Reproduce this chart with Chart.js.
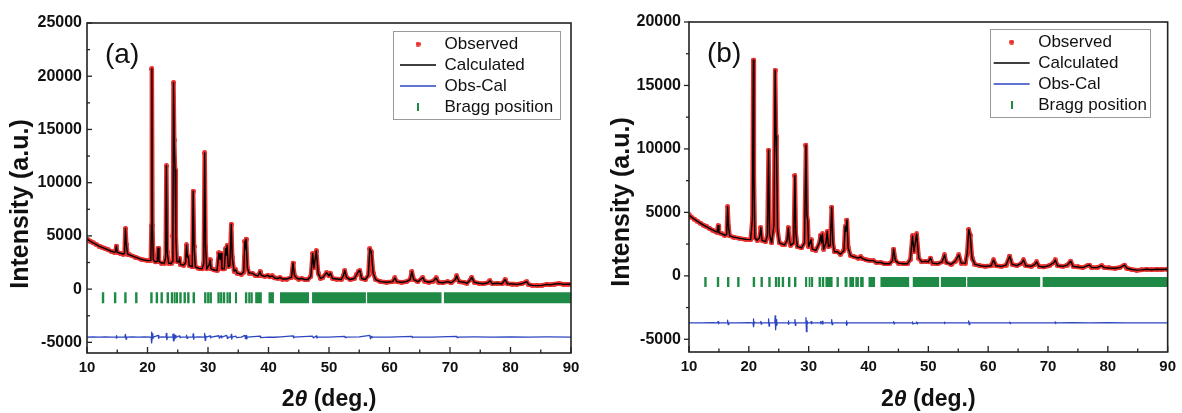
<!DOCTYPE html>
<html><head><meta charset="utf-8">
<script src="https://cdn.jsdelivr.net/npm/chart.js@4.4.1/dist/chart.umd.min.js"></script>
<style>
html,body{margin:0;padding:0;background:#fff;}
#wrap{position:relative;width:1182px;height:413px;overflow:hidden;background:#fff;}
#wrap canvas{position:absolute;top:0;}
</style></head><body>
<div id="wrap">
<canvas id="ca" width="591" height="413" style="left:0px"></canvas>
<canvas id="cb" width="591" height="413" style="left:591px"></canvas>
</div>
<script>
// ---------------- data ----------------
const seriesNames = ['Observed', 'Calculated', 'Obs-Cal', 'Bragg position'];
const panelLabels = ['(a)', '(b)'];
const xTicks = [10, 20, 30, 40, 50, 60, 70, 80, 90];
const xMinorTicks = [15, 25, 35, 45, 55, 65, 75, 85];
const yTicksA = [-5000, 0, 5000, 10000, 15000, 20000, 25000];
const yMinorTicksA = [-2500, 2500, 7500, 12500, 17500, 22500];
const yTicksB = [-5000, 0, 5000, 10000, 15000, 20000];
const yMinorTicksB = [-2500, 2500, 7500, 12500, 17500];

// panel (a) observed / calculated profile [2theta, intensity]
const observedA = [[10.0,4700],[10.5,4520],[11.0,4350],[11.5,4200],[12.0,4050],[12.5,3920],[13.0,3800],[13.5,3680],[14.0,3560],[14.5,3480],[14.7,3500],[14.85,4050],[15.0,3450],[15.5,3370],[16.0,3300],[16.2,3350],[16.35,5700],[16.5,4200],[16.7,3300],[17.0,3220],[18.0,3000],[19.0,2800],[20.0,2680],[20.55,2700],[20.65,6000],[20.72,20700],[20.82,6000],[20.95,2750],[21.3,2550],[21.6,2600],[21.75,3850],[21.9,2600],[22.3,2450],[22.8,2450],[23.0,3000],[23.12,11600],[23.25,3500],[23.5,2450],[23.9,2400],[24.1,2600],[24.2,5000],[24.3,19400],[24.42,14000],[24.55,11200],[24.68,5000],[24.85,2600],[25.2,2550],[25.3,2900],[25.45,2300],[26.0,2250],[26.3,2500],[26.45,4150],[26.6,3000],[26.75,3100],[26.9,2200],[27.4,2100],[27.55,9200],[27.7,4000],[27.9,2100],[28.5,1950],[29.0,1900],[29.3,2400],[29.45,12800],[29.6,4000],[29.8,1900],[30.2,2300],[30.35,2750],[30.5,1900],[31.0,1800],[31.5,1750],[31.8,3400],[32.0,2800],[32.15,3350],[32.3,1900],[32.7,1900],[32.9,3800],[33.0,3200],[33.15,4100],[33.35,2100],[33.6,2200],[33.85,6100],[34.0,3000],[34.3,1700],[34.6,1800],[34.8,1500],[35.5,1400],[35.9,1600],[36.1,4500],[36.2,3800],[36.3,4700],[36.5,2000],[36.8,1500],[37.3,1500],[37.8,1300],[38.3,1250],[38.6,1650],[38.8,1300],[39.4,1200],[39.9,1300],[40.2,1150],[40.6,1250],[41.0,1050],[41.6,1000],[41.9,1100],[42.3,950],[43.0,950],[43.8,1100],[44.05,2450],[44.3,1300],[44.6,1050],[45.0,950],[45.5,1000],[46.0,900],[46.5,900],[47.0,1200],[47.3,3350],[47.5,2000],[47.9,3600],[48.2,1500],[48.6,1000],[49.0,1100],[49.6,1550],[50.0,1250],[50.2,1500],[50.6,1000],[51.3,950],[52.0,900],[52.4,1300],[52.6,1750],[52.9,1100],[53.5,900],[54.2,1000],[54.6,1400],[54.9,1700],[55.1,1750],[55.4,1000],[56.0,900],[56.5,1300],[56.75,3800],[57.0,3500],[57.3,1500],[57.7,900],[58.5,700],[59.5,650],[60.5,700],[60.9,1050],[61.2,700],[62.0,650],[62.8,700],[63.4,900],[63.7,1650],[64.0,900],[64.7,700],[65.5,1100],[65.8,750],[66.5,650],[67.2,750],[67.7,1050],[68.1,650],[68.8,600],[69.6,700],[70.2,600],[70.9,900],[71.1,1250],[71.5,700],[72.3,650],[72.8,550],[73.4,900],[73.6,1100],[74.0,650],[74.8,550],[75.5,500],[76.3,600],[76.6,800],[77.0,500],[77.8,550],[78.6,500],[79.1,900],[79.5,500],[80.3,480],[81.0,450],[81.8,500],[82.7,700],[83.0,420],[83.6,350],[84.4,330],[85.2,350],[86.0,450],[86.6,400],[87.3,480],[88.0,520],[88.8,450],[89.5,470],[90.0,460]];
const calculatedA = observedA;
const diffA = [[10,-4520],[11,-4480],[12,-4510],[13,-4490],[14,-4510],[14.8,-4500],[14.85,-4380],[14.92,-4600],[15.0,-4500],[16.25,-4500],[16.35,-4250],[16.45,-4700],[16.55,-4500],[17.5,-4490],[18.5,-4510],[19.5,-4490],[20.6,-4500],[20.65,-4050],[20.72,-5050],[20.8,-4200],[20.88,-4650],[20.95,-4500],[21.75,-4350],[21.82,-4620],[21.9,-4500],[22.5,-4480],[23.05,-4500],[23.12,-4150],[23.2,-4750],[23.3,-4500],[24.1,-4500],[24.2,-4250],[24.3,-4850],[24.38,-4200],[24.5,-4700],[24.6,-4350],[24.7,-4550],[24.8,-4500],[25.3,-4380],[25.38,-4560],[25.45,-4500],[26.4,-4500],[26.45,-4320],[26.55,-4620],[26.65,-4500],[27.5,-4500],[27.55,-4200],[27.63,-4700],[27.72,-4500],[28.5,-4490],[29.4,-4500],[29.45,-4150],[29.53,-4800],[29.62,-4420],[29.7,-4500],[30.35,-4400],[30.42,-4580],[30.5,-4500],[31.8,-4380],[31.88,-4600],[32.15,-4400],[32.22,-4580],[32.3,-4500],[33.1,-4350],[33.2,-4620],[33.3,-4500],[33.8,-4500],[33.85,-4250],[33.93,-4700],[34.0,-4500],[34.6,-4420],[34.7,-4550],[35.5,-4500],[36.1,-4350],[36.2,-4650],[36.3,-4380],[36.4,-4680],[36.5,-4500],[38.6,-4420],[38.7,-4560],[40,-4500],[41,-4520],[42,-4480],[44.05,-4400],[44.12,-4580],[44.2,-4500],[47.3,-4420],[47.4,-4580],[47.9,-4400],[48.0,-4600],[48.1,-4500],[50,-4500],[52.6,-4440],[52.7,-4560],[52.8,-4500],[55,-4480],[56.75,-4350],[56.85,-4650],[57.0,-4450],[57.1,-4550],[57.2,-4500],[60,-4500],[63.7,-4440],[63.8,-4560],[63.9,-4500],[67,-4500],[71.1,-4440],[71.2,-4560],[71.3,-4500],[74,-4490],[77,-4510],[80,-4490],[83,-4510],[86,-4490],[90,-4500]];
const braggA = [[12.45,12.85],[14.45,14.85],[16.15,16.55],[17.95,18.35],[20.45,20.85],[21.35,21.75],[22.15,22.55],[23.15,23.55],[23.85,24.25],[24.35,24.65],[24.7,25.05],[25.25,25.65],[25.95,26.35],[26.55,26.95],[27.45,27.85],[29.35,29.75],[29.85,30.2],[30.25,30.65],[31.55,31.95],[32.0,32.35],[32.45,32.85],[33.05,33.4],[33.45,33.8],[34.45,34.8],[36.1,36.5],[36.65,37.0],[37.05,37.4],[37.8,38.9],[40.0,40.9],[41.9,46.7],[47.2,56.1],[56.3,68.6],[69.0,90]];
const braggLevelA = -800;

// panel (b)
const observedB = [[10.0,4800],[10.5,4600],[11.0,4430],[11.5,4270],[12.0,4120],[12.5,3980],[13.0,3850],[13.5,3720],[14.0,3600],[14.5,3480],[14.7,3450],[14.85,3950],[15.0,3400],[15.5,3300],[16.0,3200],[16.3,3250],[16.45,5450],[16.6,3900],[16.8,3150],[17.5,3050],[18.5,2950],[19.5,2870],[20.3,2850],[20.6,4500],[20.75,17000],[20.85,8000],[21.0,3000],[21.4,2800],[21.8,3000],[22.0,3800],[22.2,2800],[22.8,2700],[23.1,3200],[23.3,9900],[23.45,3300],[23.8,2600],[24.2,4000],[24.4,16200],[24.55,11000],[24.65,9300],[24.8,3600],[25.1,2600],[25.6,2500],[26.0,2450],[26.4,2800],[26.6,3800],[26.75,2900],[27.0,2400],[27.5,2600],[27.7,7900],[27.85,3400],[28.1,2300],[28.8,2200],[29.3,2600],[29.55,10300],[29.7,4800],[29.85,4300],[30.0,2300],[30.4,2850],[30.6,2100],[31.2,2000],[31.8,2600],[32.0,3200],[32.15,2600],[32.3,3300],[32.5,2100],[32.9,2600],[33.1,3500],[33.3,2300],[33.6,2400],[33.85,5400],[34.05,2600],[34.3,1900],[34.8,1900],[35.3,1700],[35.9,2000],[36.1,3900],[36.2,3500],[36.4,4400],[36.6,2200],[37.0,1600],[37.6,1500],[38.3,1400],[38.7,1500],[39.0,1350],[39.6,1250],[40.2,1200],[40.8,1200],[41.3,1050],[42.1,1050],[42.6,950],[43.5,950],[44.0,1200],[44.2,2100],[44.5,1200],[45.0,1000],[45.8,950],[46.5,950],[47.0,1300],[47.35,3150],[47.6,1900],[48.05,3300],[48.4,1400],[48.9,1100],[49.5,1150],[50.0,1100],[50.35,1400],[50.7,1000],[51.5,950],[52.3,1100],[52.7,1650],[53.0,1050],[53.8,900],[54.5,1150],[55.1,1650],[55.5,1000],[56.2,1000],[56.5,1800],[56.75,3650],[57.0,3200],[57.3,1400],[57.8,900],[58.6,800],[59.5,750],[60.5,800],[60.9,1250],[61.3,800],[62.2,750],[63.0,850],[63.6,1550],[64.0,900],[64.8,800],[65.6,1000],[65.9,1250],[66.3,800],[67.2,750],[67.8,900],[68.1,1100],[68.5,750],[69.3,700],[70.2,800],[71.0,1050],[71.2,1250],[71.6,800],[72.5,750],[73.2,850],[73.8,1150],[74.2,750],[75.0,700],[75.8,650],[76.6,800],[76.9,850],[77.3,650],[78.2,650],[79.0,800],[79.4,650],[80.2,620],[81.2,600],[82.0,650],[82.8,850],[83.2,600],[84.0,500],[84.8,450],[85.6,470],[86.5,520],[87.3,480],[88.2,520],[89.0,500],[90.0,520]];
const calculatedB = observedB;
const diffB = [[10,-3700],[12,-3710],[14,-3690],[14.8,-3700],[14.85,-3600],[14.92,-3780],[15,-3700],[16.4,-3700],[16.45,-3500],[16.55,-3850],[16.65,-3700],[18,-3710],[20,-3690],[20.7,-3700],[20.75,-3400],[20.82,-4000],[20.9,-3650],[21,-3700],[21.95,-3700],[22.0,-3580],[22.08,-3800],[22.15,-3700],[23.25,-3700],[23.3,-3400],[23.38,-3950],[23.46,-3700],[24.35,-3700],[24.4,-3150],[24.48,-4250],[24.56,-3450],[24.66,-3900],[24.75,-3700],[26.55,-3700],[26.6,-3550],[26.68,-3820],[26.76,-3700],[27.65,-3700],[27.7,-3450],[27.78,-3900],[27.86,-3700],[29.5,-3700],[29.55,-3300],[29.63,-4400],[29.72,-3550],[29.82,-3750],[29.9,-3700],[30.35,-3700],[30.4,-3600],[30.48,-3780],[30.55,-3700],[31.95,-3700],[32.0,-3600],[32.08,-3780],[32.3,-3580],[32.38,-3800],[32.46,-3700],[33.8,-3700],[33.85,-3450],[33.93,-3850],[34.02,-3700],[36.25,-3700],[36.3,-3550],[36.4,-3900],[36.5,-3700],[38,-3700],[40,-3710],[44.15,-3700],[44.2,-3600],[44.28,-3780],[44.36,-3700],[47.3,-3700],[47.35,-3620],[47.43,-3780],[48.0,-3700],[48.05,-3620],[48.13,-3780],[48.2,-3700],[50,-3700],[52.65,-3700],[52.7,-3640],[52.78,-3760],[52.86,-3700],[56.7,-3700],[56.75,-3550],[56.83,-3850],[56.92,-3700],[60,-3700],[63.55,-3700],[63.6,-3640],[63.68,-3760],[63.76,-3700],[68,-3700],[71.15,-3700],[71.2,-3640],[71.28,-3760],[71.36,-3700],[74,-3690],[77,-3710],[80,-3690],[83,-3710],[86,-3700],[90,-3700]];
const braggB = [[12.55,12.95],[14.65,15.05],[16.35,16.75],[18.05,18.45],[20.65,21.05],[21.95,22.35],[23.25,23.65],[24.35,24.75],[24.85,25.2],[25.5,25.9],[26.55,26.95],[27.55,27.95],[29.4,29.75],[30.0,30.3],[30.4,30.75],[31.65,32.05],[32.2,32.6],[32.8,34.0],[34.65,35.05],[36.0,36.5],[36.8,37.6],[37.8,38.4],[38.6,39.2],[40.0,41.1],[42.0,46.8],[47.4,51.8],[52.1,56.3],[56.5,68.7],[69.1,90]];
const braggLevelB = -480;

// ---------------- styling / drawing ----------------
const FONT = '"Liberation Sans", Arial, Helvetica, sans-serif';
Chart.defaults.font.family = FONT;
Chart.defaults.color = '#111';
const RED = '#e8322f', BLACK = '#000000', BLUE = '#2c46c0', GREEN = '#1f8a45', AXIS = '#222222';

function dotImage(color, d) {
  const c = document.createElement('canvas'); c.width = d; c.height = d;
  const g = c.getContext('2d'); g.fillStyle = color; g.beginPath();
  g.arc(d / 2, d / 2, d / 2, 0, Math.PI * 2); g.fill(); return c;
}
function barImage(color, w, h) {
  const c = document.createElement('canvas'); c.width = w; c.height = h;
  const g = c.getContext('2d'); g.fillStyle = color; g.fillRect(0, 0, w, h); return c;
}
function braggSegments(ranges, level) {
  const pts = [];
  ranges.forEach(([a, b]) => { pts.push([a, level], [b, level], [b, null]); });
  return pts;
}

const decor = {
  id: 'decor',
  afterLayout(chart) {
    const o = chart.options.plugins.decor, a = chart.chartArea, lg = chart.legend;
    if (!lg) return;
    const fx = a.right - o.legRight - o.legW, fy = a.top + o.legTop;
    lg.left = fx + o.legShift; lg.top = fy + 0.5;
    lg.right = lg.left + lg.width; lg.bottom = a.bottom;
  },
  afterDraw(chart) {
    const o = chart.options.plugins.decor, a = chart.chartArea, ctx = chart.ctx;
    const xs = chart.scales.x, ys = chart.scales.y;
    ctx.save();
    ctx.strokeStyle = AXIS; ctx.lineWidth = 1.6;
    ctx.strokeRect(a.left, a.top, a.right - a.left, a.bottom - a.top);
    ctx.lineWidth = 1.3;
    const tick = (x1, y1, x2, y2) => { ctx.beginPath(); ctx.moveTo(x1, y1); ctx.lineTo(x2, y2); ctx.stroke(); };
    xTicks.forEach(v => { const p = xs.getPixelForValue(v); tick(p, a.bottom, p, a.bottom - 6); });
    xMinorTicks.forEach(v => { const p = xs.getPixelForValue(v); tick(p, a.bottom, p, a.bottom - 3.5); });
    const dir = o.yTicksInside ? 1 : -1;
    o.yMajor.forEach(v => { const p = ys.getPixelForValue(v); tick(a.left, p, a.left + dir * 5, p); });
    o.yMinor.forEach(v => { const p = ys.getPixelForValue(v); tick(a.left, p, a.left + dir * 3, p); });
    ctx.strokeStyle = '#9a9a9a'; ctx.lineWidth = 1;
    ctx.strokeRect(Math.round(a.right - o.legRight - o.legW) + 0.5, Math.round(a.top + o.legTop) + 0.5, o.legW, o.legH);
    ctx.fillStyle = '#111'; ctx.font = '28px ' + FONT; ctx.textAlign = 'left'; ctx.textBaseline = 'alphabetic';
    ctx.fillText(o.panel, a.left + 18, a.top + 40);
    ctx.save(); ctx.translate(o.yTitleX, o.yTitleY); ctx.rotate(-Math.PI / 2);
    ctx.font = 'bold 25px ' + FONT; ctx.textAlign = 'center'; ctx.fillText('Intensity (a.u.)', 0, 0);
    ctx.restore();
    const parts = [['2', 'bold 23px ' + FONT], ['\u03B8', 'italic bold 23px ' + FONT], [' (deg.)', 'bold 23px ' + FONT]];
    let w = 0; parts.forEach(([t, f]) => { ctx.font = f; w += ctx.measureText(t).width; });
    let x = (a.left + a.right) / 2 - w / 2;
    ctx.textAlign = 'left';
    parts.forEach(([t, f]) => { ctx.font = f; ctx.fillText(t, x, 406); x += ctx.measureText(t).width; });
    ctx.restore();
  }
};

function makePanel(id, p) {
  const datasets = [
    { label: seriesNames[0], data: p.observed, order: 1, borderColor: RED, backgroundColor: RED,
      borderWidth: 4.5, borderJoinStyle: 'round', borderCapStyle: 'round',
      pointStyle: dotImage(RED, 5), pointRadius: 2, pointHoverRadius: 2, tension: 0 },
    { label: seriesNames[1], data: p.calculated, order: 0, borderColor: BLACK, backgroundColor: BLACK,
      borderWidth: 1.4, borderJoinStyle: 'round', pointRadius: 0, pointStyle: 'line', tension: 0 },
    { label: seriesNames[2], data: p.diff, order: 2, borderColor: BLUE, backgroundColor: BLUE,
      borderWidth: 1.3, borderJoinStyle: 'round', pointRadius: 0, pointStyle: 'line', tension: 0 },
    { label: seriesNames[3], data: braggSegments(p.bragg, p.braggLevel), order: 3, borderColor: GREEN,
      backgroundColor: GREEN, borderWidth: p.braggWidth, borderCapStyle: 'butt', pointRadius: 0,
      pointStyle: barImage(GREEN, 2, 8), spanGaps: false, tension: 0 }
  ];
  return new Chart(document.getElementById(id), {
    type: 'line',
    data: { datasets },
    options: {
      responsive: false, animation: false, devicePixelRatio: 1, events: [],
      layout: { padding: { left: 0, top: p.padTop, right: p.padRight, bottom: 0 } },
      scales: {
        x: { type: 'linear', min: 10, max: 90,
          afterBuildTicks: s => { s.ticks = xTicks.map(v => ({ value: v })); },
          afterFit: s => { s.height = p.xAxisHeight; },
          ticks: { font: { size: 15, weight: 'bold' }, color: '#111', padding: 6, maxRotation: 0, autoSkip: false },
          grid: { display: false, drawTicks: false }, border: { display: false } },
        y: { type: 'linear', min: -6000, max: p.yMax,
          afterBuildTicks: s => { s.ticks = p.yTicks.map(v => ({ value: v })); },
          afterFit: s => { s.width = p.yAxisWidth; },
          ticks: { font: { size: 16, weight: 'bold' }, color: '#111', padding: p.yPad, callback: v => String(v) },
          grid: { display: false, drawTicks: false }, border: { display: false } }
      },
      plugins: {
        tooltip: { enabled: false },
        legend: { display: true, position: 'chartArea', align: 'start',
          labels: { usePointStyle: true, pointStyleWidth: 36, padding: 4, color: '#111',
            font: { size: 17 }, sort: (a, b) => a.datasetIndex - b.datasetIndex } },
        decor: { panel: p.panel, yMajor: p.yTicks, yMinor: p.yMinor, yTicksInside: p.yInside,
          legRight: p.legRight, legW: p.legW, legH: 88, legTop: p.legTop, legShift: p.legShift,
          yTitleX: p.yTitleX, yTitleY: p.yTitleY }
      }
    },
    plugins: [decor]
  });
}

makePanel('ca', { panel: panelLabels[0], observed: observedA, calculated: calculatedA, diff: diffA,
  bragg: braggA, braggLevel: braggLevelA, braggWidth: 11, yMax: 25000, yTicks: yTicksA, yMinor: yMinorTicksA,
  yInside: true, padTop: 23, padRight: 20, xAxisHeight: 60, yAxisWidth: 87, yPad: 5,
  legRight: 11, legW: 167, legTop: 8, legShift: 3, yTitleX: 28, yTitleY: 204 });
makePanel('cb', { panel: panelLabels[1], observed: observedB, calculated: calculatedB, diff: diffB,
  bragg: braggB, braggLevel: braggLevelB, braggWidth: 10, yMax: 20000, yTicks: yTicksB, yMinor: yMinorTicksB,
  yInside: false, padTop: 22, padRight: 9, xAxisHeight: 61, yAxisWidth: 98, yPad: 8,
  legRight: 18, legW: 160, legTop: 7, legShift: 0, yTitleX: 38, yTitleY: 202 });
</script>
</body></html>
